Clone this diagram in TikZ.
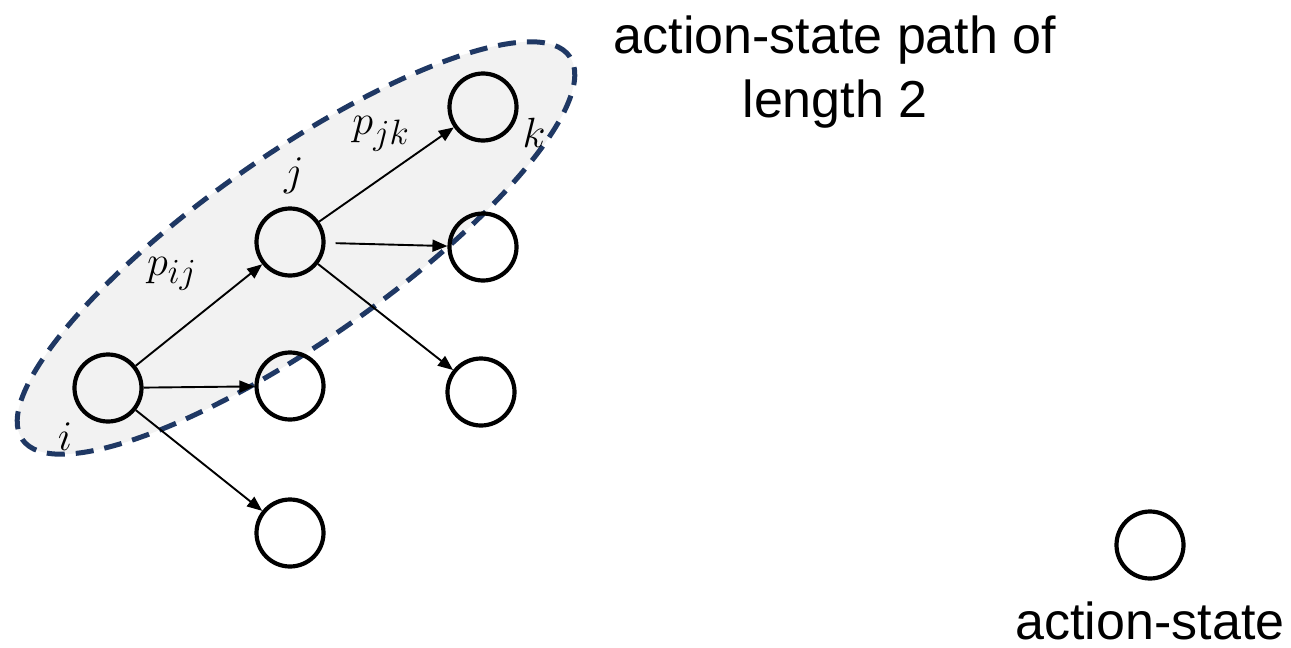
\documentclass[tikz,border=0pt]{standalone}
\usepackage{fontspec}
\newfontfamily\arial{Liberation Sans}
\usetikzlibrary{arrows.meta}
\definecolor{navy}{HTML}{1F3864}
\definecolor{cloud}{HTML}{F2F2F2}
\tikzset{
  st/.style={circle,draw=black,line width=4.2pt,minimum size=67pt,inner sep=0pt},
  arr/.style={line width=1.9pt,-{Triangle[length=15pt,width=12pt]}},
  lab/.style={inner sep=0pt,scale=1.7,font=\fontsize{24.88}{30}\selectfont},
  big/.style={inner sep=0pt,align=center,font=\arial\fontsize{52}{64}\selectfont}
}
\begin{document}
\begin{tikzpicture}[x=1pt,y=-1pt]
\useasboundingbox (0,0) rectangle (1291,648);
% highlighted path region
\coordinate (c) at (296,248);
\fill[cloud,rotate around={35:(c)}] (c) ellipse [x radius=334pt, y radius=93pt];
\draw[navy,line width=5pt,dash pattern=on 18pt off 11pt,rotate around={35:(c)}] (c) ellipse [x radius=334pt, y radius=93pt];
% nodes
\node[st] (i)  at (108,388) {};
\node[st] (j)  at (290,242) {};
\node[st] (k)  at (483,107) {};
\node[st] (m1) at (483,247) {};
\node[st] (n1) at (290,386) {};
\node[st] (m2) at (481,392) {};
\node[st] (n2) at (290,533) {};
\node[st] (lone) at (1150,545) {};
% connectors
\draw[arr] (i) -- (j);
\draw[arr] (i) -- (n1);
\draw[arr] (i) -- (n2);
\draw[arr] (j) -- (k);
\draw[arr,shorten <=10pt] (j) -- (m1);
\draw[arr] (j) -- (m2);
% labels
\node[lab] (lij) at (172,274) {$p_{ij}$};
\node[lab] (ljk) at (381,134) {$p_{jk}$};
\node[lab] (lj) at (294,176) {$j$};
\node[lab] (lk) at (534,133) {$k$};
\node[lab] (li) at (65,437) {$i$};
% texts
\node[big] (title) at (835,72) {action-state path of\\length 2};
\node[big,anchor=base] (as) at (1150,639) {action-state};
\end{tikzpicture}
\end{document}
